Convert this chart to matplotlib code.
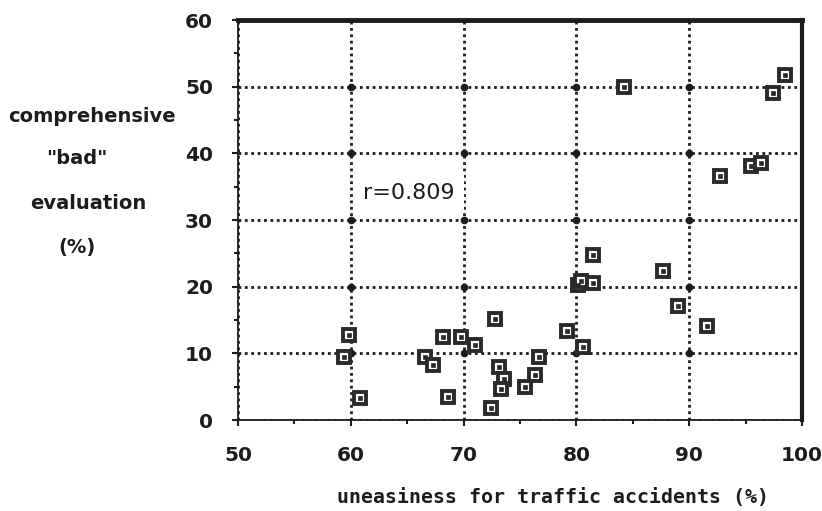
import numpy as np
import matplotlib.pyplot as plt
from matplotlib.ticker import MultipleLocator

# uneasiness for traffic accidents (%) vs. comprehensive "bad" evaluation (%)
uneasiness = [59.8, 59.4, 60.8, 66.6, 67.3, 68.2, 68.6, 69.8, 71.0, 72.8,
              72.4, 73.1, 73.6, 73.3, 75.4, 76.3, 76.7, 79.2, 80.6, 80.1,
              80.4, 81.5, 81.5, 84.2, 87.7, 89.0, 91.6, 92.7, 95.5, 96.4,
              97.4, 98.5]
bad_eval = [12.8, 9.4, 3.3, 9.4, 8.3, 12.5, 3.4, 12.5, 11.2, 15.2,
            1.8, 7.9, 6.1, 4.6, 5.0, 6.7, 9.4, 13.3, 10.9, 20.3,
            20.9, 20.6, 24.8, 49.9, 22.4, 17.1, 14.1, 36.6, 38.1, 38.5,
            49.1, 51.8]
r_value = 0.809

ink = "#1c1c1c"

fig = plt.figure(figsize=(8.22, 5.11), dpi=100)
ax = fig.add_axes([238 / 822, 1 - 420 / 511, 564 / 822, 400 / 511])

ax.set_xlim(50, 100)
ax.set_ylim(0, 60)
ax.xaxis.set_major_locator(MultipleLocator(10))
ax.xaxis.set_minor_locator(MultipleLocator(5))
ax.yaxis.set_major_locator(MultipleLocator(10))
ax.yaxis.set_minor_locator(MultipleLocator(5))

# dotted grid
ax.grid(True, which="major", color=ink, linestyle=(0, (1, 1.3)), linewidth=2.0)
gx, gy = np.meshgrid(np.arange(60, 100, 10), np.arange(10, 60, 10))
ax.plot(gx.ravel(), gy.ravel(), "o", color=ink, markersize=4.5, zorder=2)

# markers: dark frame, white ring, small centre dot
ax.plot(uneasiness, bad_eval, "s", markersize=9, markerfacecolor="white",
        markeredgecolor="#2a2a2a", markeredgewidth=2.8, zorder=4)
ax.plot(uneasiness, bad_eval, "s", markersize=2.2, color="#2a2a2a",
        markeredgewidth=0.5, zorder=5)

ax.text(61.1, 34.0, f"r={r_value:.3f}", fontsize=16, color=ink, ha="left",
        va="center", zorder=3,
        bbox=dict(boxstyle="square,pad=0.4", facecolor="white", edgecolor="none"))

for side, lw in [("top", 3.5), ("right", 3.0), ("left", 1.3), ("bottom", 1.3)]:
    ax.spines[side].set_linewidth(lw)
    ax.spines[side].set_color(ink)

ax.tick_params(which="both", direction="out", color=ink, width=1.5)
ax.tick_params(which="major", length=4)
ax.tick_params(which="minor", length=3)
ax.tick_params(axis="y", which="major", pad=14, labelsize=14.5, labelcolor=ink)
ax.tick_params(axis="x", which="major", pad=15, labelsize=14.5, labelcolor=ink)
for lbl in ax.get_xticklabels() + ax.get_yticklabels():
    lbl.set_fontweight("bold")

# axis titles placed in figure pixels
fig.text(553 / 822, 1 - 497 / 511, "uneasiness for traffic accidents (%)",
         fontsize=14.3, family="DejaVu Sans Mono", fontweight="bold",
         color=ink, ha="center", va="center")

ylines = [("comprehensive", 92, 117), ('"bad"', 77, 158),
          ("evaluation", 88, 203), ("(%)", 77, 247)]
for txt, px, py in ylines:
    fig.text(px / 822, 1 - py / 511, txt, fontsize=14, fontweight="bold",
             color=ink, ha="center", va="center")

fig.savefig("out.png", dpi=100)
